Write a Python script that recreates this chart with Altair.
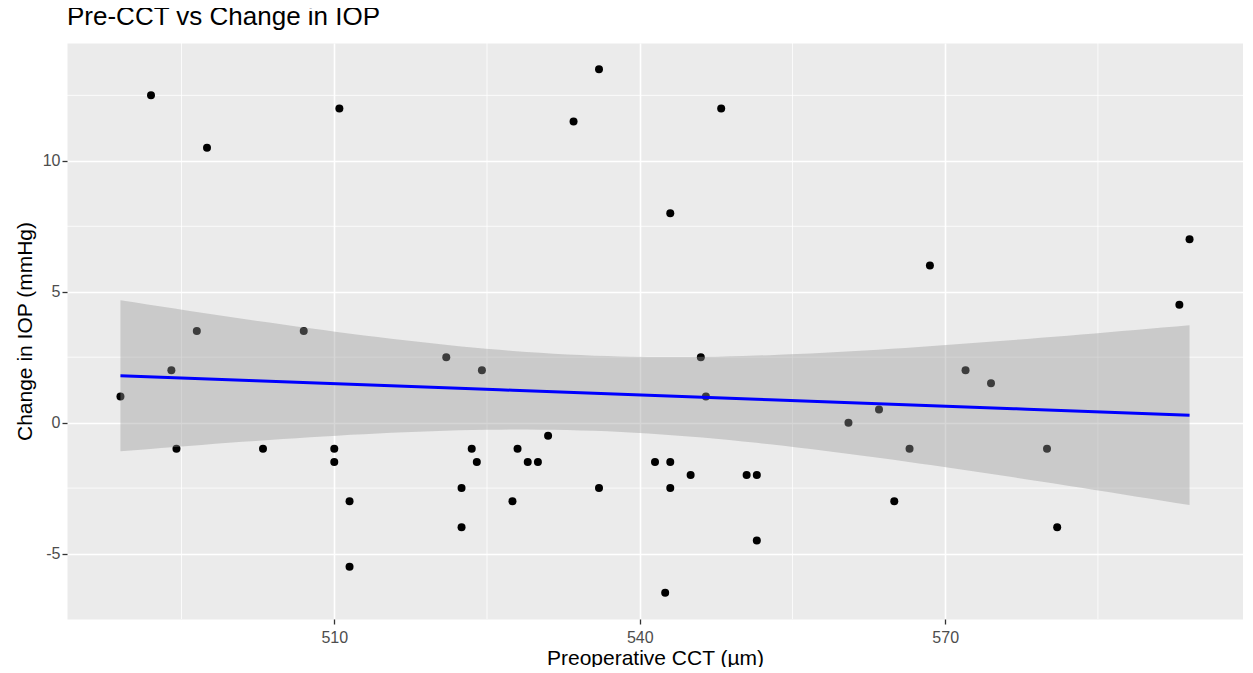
import altair as alt
import numpy as np
import pandas as pd

# Preoperative CCT (µm) and change in IOP (mmHg)
cct = [489, 492, 494, 494.5, 496.5, 497.5, 503, 507, 510, 510,
       510.5, 511.5, 511.5, 521, 522.5, 522.5, 523.5, 524, 524.5, 527.5,
       528, 529, 530, 531, 533.5, 536, 536, 541.5, 542.5, 543,
       543, 543, 545, 546, 546.5, 548, 550.5, 551.5, 551.5, 560.5,
       563.5, 565, 566.5, 568.5, 572, 574.5, 580, 581, 593, 594]
iop = [1.0, 12.5, 2.0, -1.0, 3.5, 10.5, -1.0, 3.5, -1.0, -1.5,
       12.0, -3.0, -5.5, 2.5, -2.5, -4.0, -1.0, -1.5, 2.0, -3.0,
       -1.0, -1.5, -1.5, -0.5, 11.5, 13.5, -2.5, -1.5, -6.5, 8.0,
       -1.5, -2.5, -2.0, 2.5, 1.0, 12.0, -2.0, -2.0, -4.5, 0.0,
       0.5, -3.0, -1.0, 6.0, 2.0, 1.5, -1.0, -4.0, 4.5, 7.0]

x_major = [510, 540, 570]
x_minor = [495, 525, 555, 585]
y_major = [-5, 0, 5, 10]
y_minor = [-2.5, 2.5, 7.5, 12.5]

x_title = "Preoperative CCT (µm)"
y_title = "Change in IOP (mmHg)"

df = pd.DataFrame({"cct": cct, "iop": iop})

# linear model with 95% confidence band (as geom_smooth(method="lm"))
x = np.array(cct, float)
y = np.array(iop, float)
n = len(x)
b1, b0 = np.polyfit(x, y, 1)
resid = y - (b0 + b1 * x)
s = np.sqrt((resid ** 2).sum() / (n - 2))
sxx = ((x - x.mean()) ** 2).sum()
t_crit = 2.0106  # t(0.975, df = 48)
gx = np.linspace(x.min(), x.max(), 80)
fit = b0 + b1 * gx
se = s * np.sqrt(1.0 / n + (gx - x.mean()) ** 2 / sxx)
band = pd.DataFrame({"cct": gx, "fit": fit, "lo": fit - t_crit * se, "hi": fit + t_crit * se})

xs = alt.Scale(domain=[483.75, 599.25], nice=False, zero=False)
ys = alt.Scale(domain=[-7.5, 14.5], nice=False, zero=False)
xa = alt.Axis(values=x_major, labelPadding=5, titlePadding=2,
              labelExpr="datum.value + ''")
ya = alt.Axis(values=y_major, labelPadding=2, titlePadding=7,
              labelExpr="datum.value + ''")


def X(field):
    return alt.X(field, scale=xs, axis=xa, title=x_title)


def Y(field):
    return alt.Y(field, scale=ys, axis=ya, title=y_title)


minor_x = alt.Chart(pd.DataFrame({"v": x_minor})).mark_rule(
    color="white", strokeWidth=0.8
).encode(x=X("v:Q"))

minor_y = alt.Chart(pd.DataFrame({"v": y_minor})).mark_rule(
    color="white", strokeWidth=0.8
).encode(y=Y("v:Q"))

points = alt.Chart(df).mark_circle(size=64, color="black", opacity=1).encode(
    x=X("cct:Q"),
    y=Y("iop:Q"),
)

ribbon = alt.Chart(band).mark_area(color="#999999", opacity=0.4).encode(
    x=X("cct:Q"),
    y=Y("lo:Q"),
    y2="hi:Q",
)

line = alt.Chart(band).mark_line(color="#0000FF", strokeWidth=3).encode(
    x=X("cct:Q"),
    y=Y("fit:Q"),
)

chart = alt.layer(minor_x, minor_y, points, ribbon, line).properties(
    width=1176,
    height=576,
    title=alt.TitleParams("Pre-CCT vs Change in IOP"),
    autosize=alt.AutoSizeParams(type="none"),
    padding={"left": 59, "top": 35, "right": 0, "bottom": 48},
).configure_view(
    fill="#EBEBEB", stroke="transparent"
).configure_axis(
    domain=False,
    grid=True,
    gridColor="white",
    gridWidth=1.6,
    tickColor="#333333",
    tickSize=5,
    tickWidth=1.3,
    labelColor="#4D4D4D",
    labelFont="Liberation Sans",
    labelFontSize=16,
    titleFont="Liberation Sans",
    titleFontSize=21,
    titleFontWeight="normal",
    titleColor="black",
).configure_title(
    font="Liberation Sans",
    fontSize=26,
    fontWeight="normal",
    anchor="start",
    color="black",
    offset=13,
    baseline="alphabetic",
    frame="group",
)

chart.save("out.html", embed_options={"renderer": "svg", "actions": False})
